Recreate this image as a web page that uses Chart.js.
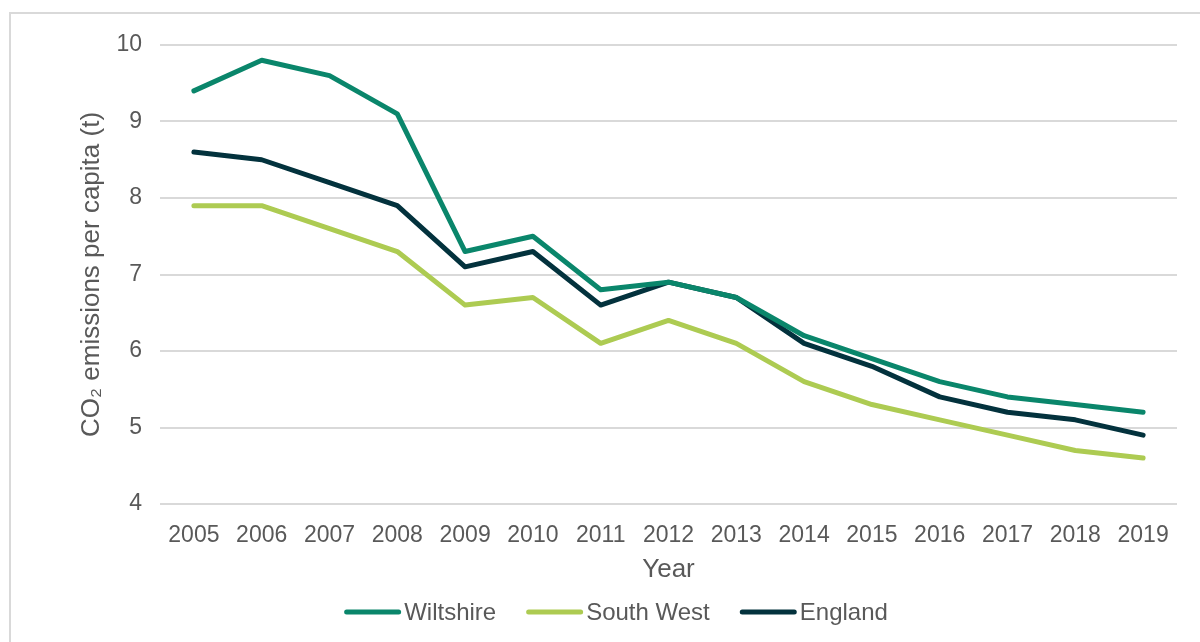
<!DOCTYPE html>
<html>
<head>
<meta charset="utf-8">
<script src="https://cdn.jsdelivr.net/npm/chart.js@4.4.1/dist/chart.umd.min.js"></script>
<style>
  html, body { margin: 0; padding: 0; background: #fff; }
  #wrap { position: relative; width: 1200px; height: 642px; }
  #frame {
    position: absolute; left: 9px; top: 12px; width: 1200px; height: 640px;
    border-left: 2px solid #d9d9d9; border-top: 2px solid #d9d9d9;
    pointer-events: none;
  }
  canvas { position: absolute; left: 0; top: 0; }
</style>
</head>
<body>
<div id="wrap">
  <div id="frame"></div>
  <canvas id="co2Chart" width="1200" height="642"></canvas>
</div>
<script>
const years = ["2005", "2006", "2007", "2008", "2009", "2010", "2011", "2012",
  "2013", "2014", "2015", "2016", "2017", "2018", "2019"];
const wiltshire = [9.4, 9.8, 9.6, 9.1, 7.3, 7.5, 6.8, 6.9, 6.7, 6.2, 5.9, 5.6, 5.4, 5.3, 5.2];
const southWest = [7.9, 7.9, 7.6, 7.3, 6.6, 6.7, 6.1, 6.4, 6.1, 5.6, 5.3, 5.1, 4.9, 4.7, 4.6];
const england = [8.6, 8.5, 8.2, 7.9, 7.1, 7.3, 6.6, 6.9, 6.7, 6.1, 5.8, 5.4, 5.2, 5.1, 4.9];

const textGrey = "#595959";
const fontFamily = "'Liberation Sans', Arial, sans-serif";

function series(label, data, color) {
  return {
    label: label,
    data: data,
    borderColor: color,
    backgroundColor: color,
    borderWidth: 5,
    borderCapStyle: "round",
    borderJoinStyle: "round",
    pointRadius: 0,
    tension: 0,
  };
}

// legend with the text tight against the line sample, centred under the plot
const lineLegend = {
  id: "lineLegend",
  afterDraw(chart) {
    const ctx = chart.ctx;
    const lineLen = 57, textGap = 3, spacing = 30, y = 612, centerX = 616;
    ctx.save();
    ctx.font = "24px " + fontFamily;
    const items = chart.data.datasets.map((ds) => ({
      ds: ds,
      w: lineLen + textGap + ctx.measureText(ds.label).width,
    }));
    const total = items.reduce((s, it) => s + it.w, 0) + spacing * (items.length - 1);
    let x = centerX - total / 2;
    items.forEach((it) => {
      ctx.strokeStyle = it.ds.borderColor;
      ctx.lineWidth = it.ds.borderWidth;
      ctx.lineCap = "round";
      ctx.beginPath();
      ctx.moveTo(x + 2.5, y);
      ctx.lineTo(x + lineLen - 2.5, y);
      ctx.stroke();
      ctx.fillStyle = textGrey;
      ctx.textBaseline = "middle";
      ctx.textAlign = "left";
      ctx.fillText(it.ds.label, x + lineLen + textGap, y + 1);
      x += it.w + spacing;
    });
    ctx.restore();
  },
};

new Chart(document.getElementById("co2Chart"), {
  type: "line",
  data: {
    labels: years,
    datasets: [
      series("Wiltshire", wiltshire, "#0a866b"),
      series("South West", southWest, "#adcb52"),
      series("England", england, "#03323d"),
    ],
  },
  plugins: [lineLegend],
  options: {
    responsive: false,
    animation: false,
    layout: { padding: { left: 75, right: 23, top: 45, bottom: 51 } },
    plugins: {
      tooltip: { enabled: false },
      legend: { display: false },
    },
    scales: {
      x: {
        offset: true,
        grid: { display: false },
        border: { display: false },
        ticks: { color: textGrey, padding: 10, maxRotation: 0, font: { family: fontFamily, size: 23 } },
        title: {
          display: true,
          text: "Year",
          color: textGrey,
          padding: { top: 0, bottom: 6 },
          font: { family: fontFamily, size: 26 },
        },
        afterFit: (scale) => { scale.height = 87; },
      },
      y: {
        min: 4,
        max: 10,
        grid: { color: "#d9d9d9", lineWidth: 2, drawTicks: false },
        border: { display: false },
        ticks: { stepSize: 1, color: textGrey, padding: 18, font: { family: fontFamily, size: 23 } },
        title: {
          display: true,
          text: "CO₂ emissions per capita (t)",
          color: textGrey,
          padding: { top: 1, bottom: 0 },
          font: { family: fontFamily, size: 26 },
        },
        afterFit: (scale) => { scale.width = 85; },
      },
    },
  },
});
</script>
</body>
</html>
